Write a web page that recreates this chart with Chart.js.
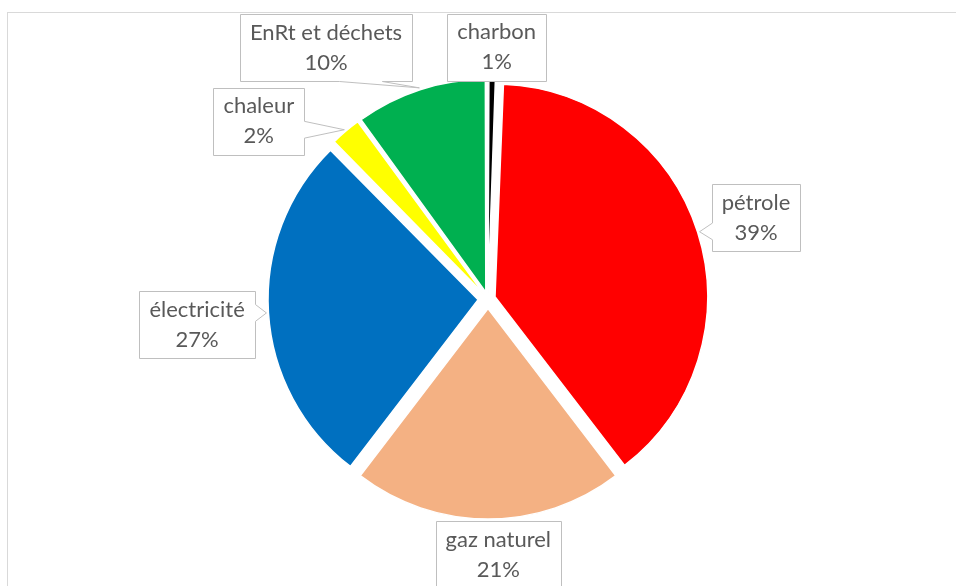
<!DOCTYPE html>
<html>
<head>
<meta charset="utf-8">
<script src="https://cdn.jsdelivr.net/npm/chart.js@4/dist/chart.umd.min.js"></script>
<style>
  html, body { margin: 0; background: #fff; }
  canvas { display: block; }
</style>
</head>
<body>
<canvas id="pie" width="956" height="586"></canvas>
<script>
const categories = ['charbon', 'pétrole', 'gaz naturel', 'électricité', 'chaleur', 'EnRt et déchets'];
const shares = [0.6, 39.0, 20.8, 27.2, 2.4, 10.0];
const sliceColors = ['#000000', '#FF0000', '#F4B183', '#0070C0', '#FFFF00', '#00B050'];

// where each callout box sits: angle shift (deg) from the slice middle, distance from pie centre
const calloutShift = [0.9, 0.8, -2.3, -1.4, -11.9, -14.8];
const calloutDist = [252, 280, 256, 292, 290, 299];

const LABEL_FONT = '22px Lato';
const EXPLODE = 10; // px each slice is pulled out
const total = shares.reduce((a, b) => a + b, 0);

// chart.js v4 translates an arc by offset/4 * (1 + fix), fix = 1 - sin(circumference)
function offsetFor(value) {
  const circ = value / total * Math.PI * 2;
  const fix = 1 - Math.sin(Math.min(Math.PI, circ));
  return EXPLODE * 4 / (1 + fix);
}

function drawCallout(ctx, cx, cy, w, h, tx, ty) {
  const l = Math.round(cx - w / 2) + 0.5, r = Math.round(cx + w / 2) + 0.5;
  const t = Math.round(cy - h / 2) + 0.5, b = Math.round(cy + h / 2) + 0.5;
  const clamp = (v, a, z) => Math.max(a, Math.min(z, v));
  let edge = null;
  if (ty > b + 1) edge = 'bottom';
  else if (ty < t - 1) edge = 'top';
  else if (tx < l) edge = 'left';
  else if (tx > r) edge = 'right';

  const pts = [[l, t]];
  if (edge === 'top') {
    const bw = (r - l) * 0.25, c = clamp(tx, l + (r - l) * 0.3, r - (r - l) * 0.3);
    pts.push([c - bw / 2, t], [tx, ty], [c + bw / 2, t]);
  }
  pts.push([r, t]);
  if (edge === 'right') {
    const bw = (b - t) * 0.25, c = clamp(ty, t + (b - t) * 0.3, b - (b - t) * 0.3);
    pts.push([r, c - bw / 2], [tx, ty], [r, c + bw / 2]);
  }
  pts.push([r, b]);
  if (edge === 'bottom') {
    const bw = (r - l) * 0.25, c = clamp(tx, l + (r - l) * 0.3, r - (r - l) * 0.3);
    pts.push([c + bw / 2, b], [tx, ty], [c - bw / 2, b]);
  }
  pts.push([l, b]);
  if (edge === 'left') {
    const bw = (b - t) * 0.25, c = clamp(ty, t + (b - t) * 0.3, b - (b - t) * 0.3);
    pts.push([l, c + bw / 2], [tx, ty], [l, c - bw / 2]);
  }

  ctx.beginPath();
  pts.forEach((p, i) => i ? ctx.lineTo(p[0], p[1]) : ctx.moveTo(p[0], p[1]));
  ctx.closePath();
  ctx.fillStyle = '#ffffff';
  ctx.fill();
  ctx.strokeStyle = '#bfbfbf';
  ctx.lineWidth = 1;
  ctx.stroke();
}

const frame = {
  id: 'frame',
  beforeDraw(chart) {
    const ctx = chart.ctx;
    ctx.save();
    ctx.strokeStyle = '#d9d9d9';
    ctx.lineWidth = 1;
    ctx.strokeRect(7.5, 12.5, chart.width + 20, chart.height + 20);
    ctx.restore();
  }
};

const callouts = {
  id: 'callouts',
  afterDatasetsDraw(chart) {
    const ctx = chart.ctx;
    const meta = chart.getDatasetMeta(0);
    ctx.save();
    ctx.font = LABEL_FONT;
    meta.data.forEach((arc, i) => {
      const p = arc.getProps(['x', 'y', 'startAngle', 'endAngle', 'outerRadius'], true);
      const mid = (p.startAngle + p.endAngle) / 2;
      const tipR = p.outerRadius + EXPLODE + 2;
      const tx = p.x + Math.cos(mid) * tipR, ty = p.y + Math.sin(mid) * tipR;
      const a = mid + calloutShift[i] * Math.PI / 180;
      const cx = p.x + Math.cos(a) * calloutDist[i], cy = p.y + Math.sin(a) * calloutDist[i];
      const pct = Math.round(shares[i] / total * 100) + '%';
      const w = Math.max(ctx.measureText(categories[i]).width, ctx.measureText(pct).width) + 20;
      drawCallout(ctx, cx, cy, w, 67, tx, ty);
      ctx.fillStyle = '#595959';
      ctx.textAlign = 'center';
      ctx.textBaseline = 'middle';
      ctx.fillText(categories[i], cx, cy - 15);
      ctx.fillText(pct, cx, cy + 15);
    });
    ctx.restore();
  }
};

new Chart(document.getElementById('pie'), {
  type: 'pie',
  data: {
    labels: categories,
    datasets: [{
      data: shares,
      backgroundColor: sliceColors,
      borderColor: '#ffffff',
      borderWidth: 1.5,
      offset: shares.map(offsetFor),
      hoverOffset: 0
    }]
  },
  options: {
    responsive: false,
    animation: false,
    devicePixelRatio: 1,
    radius: 210,
    layout: { padding: { left: 30, right: 10, top: 22, bottom: 10 } },
    plugins: {
      legend: { display: false },
      tooltip: { enabled: false }
    },
    events: []
  },
  plugins: [frame, callouts]
});
</script>
</body>
</html>
